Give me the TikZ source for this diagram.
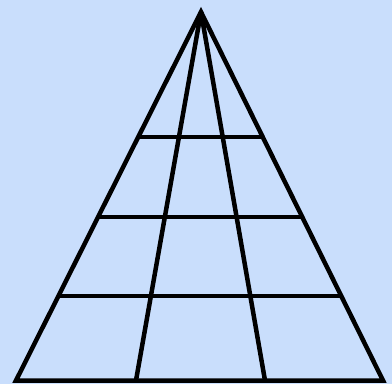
\documentclass[tikz,border=0pt]{standalone}
\usepackage{tikz}
\usetikzlibrary{calc}
\definecolor{skyback}{RGB}{201,222,252}
\tikzset{grid line/.style={line width=4.5pt,black,line join=miter}}

\begin{document}
\begin{tikzpicture}[x=1pt,y=-1pt]
        \fill[skyback] (0,0) rectangle (392,384);
        \useasboundingbox (0,0) rectangle (392,384);
        \coordinate (apex) at (201,12);
        \coordinate (baseL) at (16,380.5); \coordinate (baseR) at (383,380.5);
        \coordinate (footL) at (136,380.5); \coordinate (footR) at (265,380.5);
        \draw[grid line] (apex) -- (baseL) -- (baseR) -- cycle;
        \draw[grid line] (apex) -- (footL); \draw[grid line] (apex) -- (footR);
        \foreach \h in {137,217,296}
          \draw[grid line] ($(apex)!{(\h-12)/368.5}!(baseL)$) -- ($(apex)!{(\h-12)/368.5}!(baseR)$);
      \end{tikzpicture}
\end{document}
